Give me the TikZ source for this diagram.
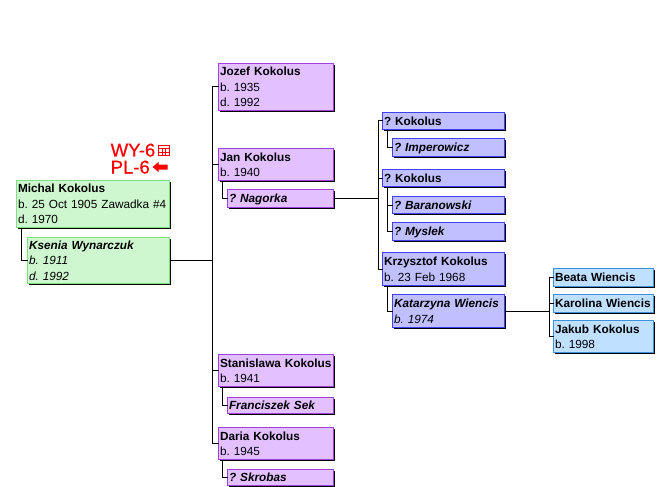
\documentclass[tikz,border=0pt]{standalone}
\usepackage{fontspec}
\setmainfont{Liberation Sans}
\newfontface\tagface[FakeBold=0.6]{Liberation Sans}
\usetikzlibrary{calc}
\definecolor{gfill}{HTML}{CFF7CF}\definecolor{gline}{HTML}{80E080}
\definecolor{pfill}{HTML}{E3C0FF}\definecolor{pline}{HTML}{A040E0}
\definecolor{bfill}{HTML}{C0C0FF}\definecolor{bline}{HTML}{4040F0}
\definecolor{lfill}{HTML}{C0E0FF}\definecolor{lline}{HTML}{4090E0}
\tikzset{
  person/.style={draw=#1line,fill=#1fill,line width=1pt,anchor=north west,inner xsep=1.5pt,inner ysep=0pt,outer sep=0pt,
    align=left,font=\fontsize{11.8}{15.5}\selectfont\frenchspacing},
  shade box/.style={fill=black},
  link/.style={line width=1pt,black},
  tag/.style={text=red,font=\tagface\fontsize{18.5}{20}\selectfont,inner sep=0pt,anchor=base west}
}
% name, colour, x1, y1, x2, y2, text
\newcommand{\pbox}[7]{%
  \pgfmathsetmacro{\ph}{#6-#4-1}%
  \pgfmathsetmacro{\tw}{#5-#3-4}%
  \fill[shade box] (#3+2,#4+2) rectangle (#5+1,#6+1);
  \node[person=#2,minimum height=\ph pt,text width=\tw pt] (#1) at (#3+.5,#4+.5) {\rule{0pt}{11pt}#7\rule[-2.5pt]{0pt}{3pt}};}
\newcommand{\nm}[1]{\textbf{#1}}
\newcommand{\sn}[1]{\textbf{\textit{#1}}}
\begin{document}
\begin{tikzpicture}[x=1pt,y=-1pt]
\useasboundingbox[fill=white] (0,0) rectangle (670,487);
\pbox{michal}{g}{16}{180}{170}{228}{\nm{Michal Kokolus}\\b. 25 Oct 1905 Zawadka \#4\\d. 1970}
\pbox{ksenia}{g}{27}{237}{170}{284}{\sn{Ksenia Wynarczuk}\\\textit{b. 1911}\\\textit{d. 1992}}
\pbox{jozef}{p}{218}{63}{334}{111}{\nm{Jozef Kokolus}\\b. 1935\\d. 1992}
\pbox{jan}{p}{218}{148}{334}{181}{\nm{Jan Kokolus}\\b. 1940}
\pbox{nagorka}{p}{227}{189}{334}{208}{\sn{? Nagorka}}
\pbox{stan}{p}{218}{354}{334}{387}{\nm{Stanislawa Kokolus}\\b. 1941}
\pbox{sek}{p}{227}{397}{334}{414}{\sn{Franciszek Sek}}
\pbox{daria}{p}{218}{427}{334}{460}{\nm{Daria Kokolus}\\b. 1945}
\pbox{skrobas}{p}{227}{469}{334}{486}{\sn{? Skrobas}}
\pbox{kokA}{b}{382}{112}{505}{130}{\nm{? Kokolus}}
\pbox{imper}{b}{392}{138}{505}{157}{\sn{? Imperowicz}}
\pbox{kokB}{b}{382}{169}{505}{187}{\nm{? Kokolus}}
\pbox{baran}{b}{392}{196}{505}{214}{\sn{? Baranowski}}
\pbox{myslek}{b}{392}{222}{505}{241}{\sn{? Myslek}}
\pbox{krzy}{b}{382}{252}{505}{286}{\nm{Krzysztof Kokolus}\\b. 23 Feb 1968}
\pbox{kata}{b}{392}{294}{505}{328}{\sn{Katarzyna Wiencis}\\\textit{b. 1974}}
\pbox{beata}{l}{553}{268}{654}{287}{\nm{Beata Wiencis}}
\pbox{karo}{l}{553}{294}{654}{313}{\nm{Karolina Wiencis}}
\pbox{jakub}{l}{553}{320}{654}{353}{\nm{Jakub Kokolus}\\b. 1998}
\coordinate (sa) at (212.5,0);
\coordinate (sb) at (378.5,0);
\coordinate (sc) at (549.5,0);
% spouse links
\draw[link] ($(michal.south west)+(5,0)$) |- (ksenia.west);
\draw[link] ($(jan.south west)+(4,0)$) |- (nagorka.west);
\draw[link] ($(stan.south west)+(4,0)$) |- (sek.west);
\draw[link] ($(daria.south west)+(4,0)$) |- (skrobas.west);
\draw[link] ($(kokA.south west)+(5,0)$) |- (imper.west);
\draw[link] ($(kokB.south west)+(5,0)$) |- (baran.west);
\draw[link] ($(kokB.south west)+(5,0)$) |- (myslek.west);
\draw[link] ($(krzy.south west)+(5,0)$) |- (kata.west);
% family links
\draw[link] (ksenia.east) -- (sa |- ksenia.east);
\draw[link] (jozef.west) -| (sa |- daria.west) -- (daria.west);
\draw[link] (jan.west) -- (sa |- jan.west);
\draw[link] (stan.west) -- (sa |- stan.west);
\draw[link] (nagorka.east) -- (sb |- nagorka.east);
\draw[link] (kokA.west) -| (sb |- krzy.west) -- (krzy.west);
\draw[link] (kokB.west) -- (sb |- kokB.west);
\draw[link] (kata.east) -- (sc |- kata.east);
\draw[link] (beata.west) -| (sc |- jakub.west) -- (jakub.west);
\draw[link] (karo.west) -- (sc |- karo.west);
% tags
\node[tag] (wy) at (110.5,156.5) {WY-6};
\node[tag] (pl) at (110.5,173.5) {PL-6};
\draw[red,line width=.8pt] (158.5,145.5) rectangle (169.5,155.5);
\draw[red,line width=.7pt] (158.5,148.5) -- (169.5,148.5) (158.5,152) -- (169.5,152) (162,148.5) -- (162,155.5) (165.7,148.5) -- (165.7,155.5);
\fill[red] (152.5,167) -- (158.5,162) -- (158.5,164.5) -- (167.5,164.5) -- (167.5,169.5) -- (158.5,169.5) -- (158.5,172) -- cycle;
\end{tikzpicture}
\end{document}
